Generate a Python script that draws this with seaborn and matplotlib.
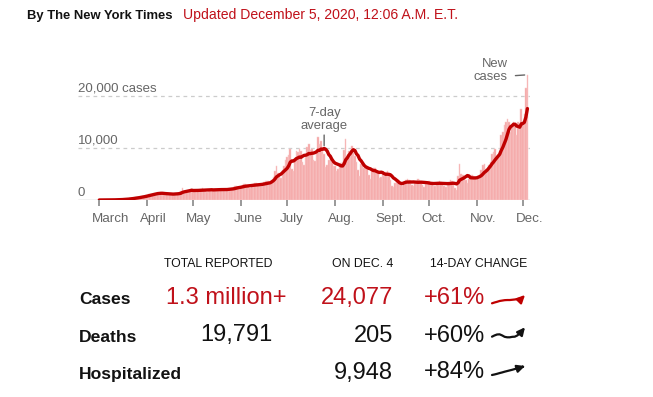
import numpy as np
import pandas as pd
import matplotlib
matplotlib.use("Agg")
import matplotlib.pyplot as plt
import seaborn as sns
from matplotlib.transforms import ScaledTranslation

# ---------------- data ----------------
start_date = "2020-03-01"
end_date = "2020-12-04"

daily_cases = [
    2, 5, 8, 10, 15, 20, 25,
    30, 40, 45, 55, 70, 80, 100,
    110, 130, 170, 190, 230, 280, 300,
    350, 420, 450, 500, 560, 600, 650,
    700, 800, 900, 950, 1100, 1150, 1200,
    1250, 1200, 1350, 1400, 1300, 1350, 1200,
    1000, 1050, 1200, 1250, 1150, 1200, 1100,
    1100, 1200, 1350, 1500, 1650, 2300, 1800,
    1500, 1600, 1800, 2000, 2200, 1900, 1800,
    1500, 1700, 1900, 2100, 2300, 2000, 1900,
    1600, 1800, 2000, 2200, 2100, 2100, 2000,
    1700, 1800, 2100, 2200, 2200, 2100, 2000,
    1900, 2000, 2300, 2500, 2600, 2700, 2500,
    2200, 2400, 2800, 3000, 3000, 2900, 2800,
    2400, 2700, 3000, 3200, 3300, 3100, 2900,
    2600, 3000, 3400, 3600, 3700, 3600, 3300,
    3800, 4500, 5500, 6600, 5200, 5000, 4300,
    5800, 6500, 7600, 8300, 8600, 9800, 6000,
    5600, 8000, 9500, 9200, 9800, 9400, 7400,
    6800, 8200, 10200, 10800, 9600, 9900, 7600,
    7500, 9300, 12200, 10700, 11400, 9500, 8800,
    6400, 6800, 7600, 8400, 7400, 6500, 6600,
    5500, 5900, 6800, 7200, 7300, 9600, 11800,
    8000, 9500, 9200, 10400, 9200, 8500, 7300,
    5800, 4700, 6900, 7300, 6100, 6600, 6200,
    4800, 4100, 5600, 6200, 6100, 5500, 5300,
    4300, 4500, 5000, 4600, 5400, 5600, 5100,
    3800, 2700, 2500, 3300, 3700, 3900, 3200,
    3000, 2600, 3500, 3900, 4100, 3800, 3400,
    2900, 2700, 3300, 3700, 4000, 3900, 3500,
    2800, 2500, 3100, 3500, 3600, 3500, 3300,
    2700, 2600, 3200, 3500, 3700, 3400, 3300,
    2600, 2500, 3100, 3500, 3900, 3700, 3300,
    2300, 1900, 4600, 7000, 5000, 4800, 4400,
    3800, 3300, 4100, 4600, 4800, 4700, 4400,
    3900, 4200, 4900, 5800, 6800, 7000, 6000,
    5800, 6800, 7400, 8900, 9200, 9900, 8500,
    8200, 9500, 12500, 13000, 14500, 15000, 15500,
    15000, 13000, 14000, 15000, 14500, 12500, 15000,
    14000, 17500, 14500, 16500, 21500, 24077,
]

month_labels = ["March", "April", "May", "June", "July", "Aug.", "Sept.", "Oct.", "Nov.", "Dec."]
y_ticks = [0, 10000, 20000]
y_tick_labels = ["0", "10,000", "20,000 cases"]

header_by = "By The New York Times"
header_updated = "Updated December 5, 2020, 12:06 A.M. E.T."

row_labels = ["Cases", "Deaths", "Hospitalized"]
col_headers = ["TOTAL REPORTED", "ON DEC. 4", "14-DAY CHANGE"]
total_reported = ["1.3 million+", "19,791", ""]
on_day = ["24,077", "205", "9,948"]
change_14d = ["+61%", "+60%", "+84%"]

trend_cases = [0, 6, 11, 17, 20, 23, 24, 24, 26, 28, 31, 35, 42, 61]
trend_deaths = [0, 8, 14, 15, 8, -1, -4, -4, -1, 0, 8, 22, 40, 60]
trend_hosp = [0, 5, 11, 18, 24, 31, 37, 43, 49, 56, 62, 69, 76, 84]

# ---------------- styling ----------------
sns.set_style("white")
plt.rcParams["font.family"] = ["Liberation Sans", "DejaVu Sans"]

RED = "#c0111a"
LINE_RED = "#bf0000"
BAR = "#f4a3a3"
GRAY = "#666666"
BLACK = "#121212"

W, H = 653, 397
fig = plt.figure(figsize=(W / 100, H / 100), dpi=100)


def fx(x):
    return x / W


def fy(y):
    return 1 - y / H


def ftext(x, y, s, **kw):
    kw.setdefault("va", "baseline")
    fig.text(fx(x), fy(y), s, **kw)


# ---------------- main chart ----------------
dates = pd.date_range(start_date, end_date, freq="D")
df = pd.DataFrame({"date": dates, "cases": daily_cases})
df["day"] = (df["date"] - df["date"].iloc[0]).dt.days
df["avg"] = df["cases"].rolling(7, min_periods=1).mean()

ax_l, ax_r, ax_t, ax_b = 78, 530, 70, 200
ax = fig.add_axes([fx(ax_l), fy(ax_b), (ax_r - ax_l) / W, (ax_b - ax_t) / H])

px_per_day = 1.54
x0_px = 99.3
xmin = (ax_l - x0_px) / px_per_day
xmax = (ax_r - x0_px) / px_per_day

sns.barplot(data=df, x="day", y="cases", native_scale=True, color=BAR,
            saturation=1, width=1.0, linewidth=0.35, edgecolor="#f9cccc",
            errorbar=None, ax=ax)
sns.lineplot(data=df, x="day", y="avg", color=LINE_RED, linewidth=2.4, ax=ax,
             solid_capstyle="round")

ax.set_xlim(xmin, xmax)
ax.set_ylim(0, 25000)
for s in ax.spines.values():
    s.set_visible(False)
ax.set_xlabel("")
ax.set_ylabel("")

# gridlines
ax.set_yticks(y_ticks[1:])
ax.yaxis.grid(True, linestyle=(0, (3, 3)), color="#cccccc", linewidth=0.9)
ax.set_axisbelow(True)
ax.tick_params(axis="y", left=False, labelleft=False)
ax.axhline(0, color="#bdbdbd", linewidth=1.0, zorder=0.5)

# month ticks
month_starts = df.loc[df["date"].dt.day == 1, "day"].tolist()
ax.set_xticks(month_starts)
ax.set_xticklabels(month_labels, ha="left")
ax.tick_params(axis="x", bottom=True, length=4.5, width=1.2, color="#888888",
               pad=5, labelsize=9.6, labelcolor=GRAY)
offset = ScaledTranslation(-7 / 100, 0, fig.dpi_scale_trans)
for lab in ax.get_xticklabels():
    lab.set_transform(lab.get_transform() + offset)

# y labels above gridlines
for v, lab in zip(y_ticks, y_tick_labels):
    ax.annotate(lab, xy=(xmin, v), xycoords="data", xytext=(0, 3),
                textcoords="offset points", ha="left", va="baseline",
                fontsize=9.5, color=GRAY, annotation_clip=False)

# 7-day average annotation
july = df[df["date"].dt.month == 7]
peak = july.loc[july["avg"].idxmax()]
ax.annotate("7-day\naverage", xy=(peak["day"], peak["avg"]), xycoords="data",
            xytext=(0, 12), textcoords="offset points", ha="center", va="bottom",
            fontsize=9.4, color=GRAY, linespacing=1.1,
            arrowprops=dict(arrowstyle="-", color=GRAY, lw=1, shrinkA=0, shrinkB=2,
                            relpos=(0.5, 0)))

# New cases annotation
last = df.iloc[-1]
ax.annotate("New\ncases", xy=(last["day"], last["cases"]), xycoords="data",
            xytext=(-14, 3), textcoords="offset points", ha="right", va="center",
            fontsize=9.4, color=GRAY, linespacing=1.1, annotation_clip=False,
            arrowprops=dict(arrowstyle="-", color=GRAY, lw=1, shrinkA=3, shrinkB=2,
                            relpos=(1, 0.28)))

# ---------------- header ----------------
ftext(27, 19, header_by, fontsize=9.4, fontweight="bold", color=BLACK)
ftext(183, 19, header_updated, fontsize=10.1, color=RED)

# ---------------- table ----------------
ftext(272, 267, col_headers[0], fontsize=8.8, color=BLACK, ha="right")
ftext(393, 267, col_headers[1], fontsize=8.8, color=BLACK, ha="right")
ftext(430, 267, col_headers[2], fontsize=8.8, color=BLACK, ha="left")

row_base = [304, 341.5, 378.5]
total_right = [287, 272, 272]
for i, lab in enumerate(row_labels):
    c = RED if i == 0 else BLACK
    ftext(79, row_base[i], lab, fontsize=12.6, fontweight="bold", color=BLACK)
    if total_reported[i]:
        ftext(total_right[i], row_base[i], total_reported[i], fontsize=17, color=c, ha="right")
    ftext(393, row_base[i], on_day[i], fontsize=17, color=c, ha="right")
    ftext(485, row_base[i], change_14d[i], fontsize=17, color=c, ha="right")

# sparklines: (values, color, top px, bottom px)
sparks = [
    (trend_cases, LINE_RED, 295, 303.3),
    (trend_deaths, BLACK, 327.3, 337.3),
    (trend_hosp, BLACK, 366, 375),
]
for vals, col, top, bot in sparks:
    sax = fig.add_axes([fx(492), fy(bot), 33 / W, (bot - top) / H])
    n = len(vals)
    sns.lineplot(x=list(range(n - 1)), y=vals[:-1], color=col, linewidth=1.6, ax=sax)
    for ln in sax.lines:
        ln.set_clip_on(False)
    ann = sax.annotate("", xy=(n - 1, vals[-1]), xytext=(n - 2, vals[-2]),
                       annotation_clip=False,
                       arrowprops=dict(arrowstyle="-|>,head_length=0.45,head_width=0.22",
                                       color=col, lw=1.6, shrinkA=0, shrinkB=0,
                                       mutation_scale=10))
    ann.arrow_patch.set_clip_on(False)
    sax.set_xlim(0, n - 1)
    sax.set_ylim(min(vals), max(vals))
    sax.axis("off")

fig.savefig("out.png", dpi=100)
